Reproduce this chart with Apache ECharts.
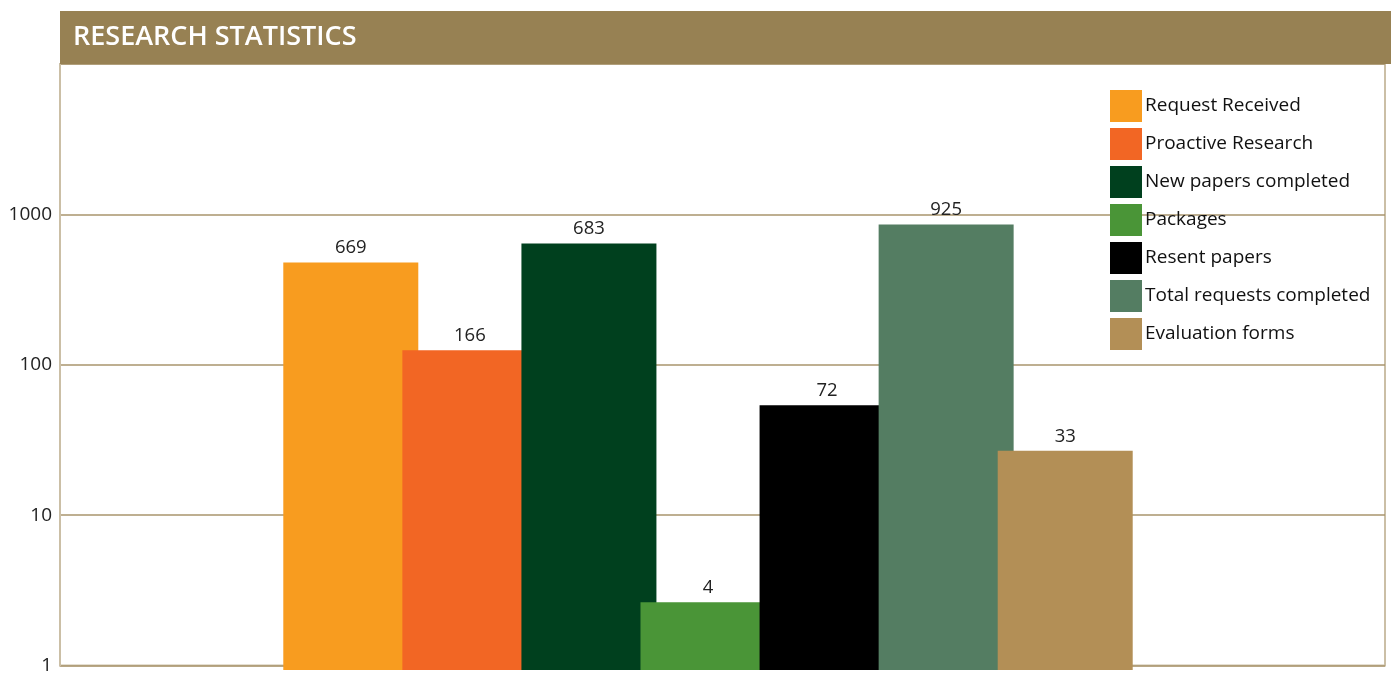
<!DOCTYPE html>
<html>
<head>
<meta charset="utf-8">
<script src="https://cdn.jsdelivr.net/npm/echarts@6/dist/echarts.min.js"></script>
<style>
html,body{margin:0;padding:0;background:#fff;}
#chart{width:1391px;height:675px;}
</style>
</head>
<body>
<div id="chart"></div>
<script>
// Data
var seriesNames = ['Request Received','Proactive Research','New papers completed','Packages','Resent papers','Total requests completed','Evaluation forms'];
// bar heights as drawn on the log axis
var barValues = [490, 129, 654, 2.8, 56, 873, 28];
// value labels as printed above the bars
var labelValues = [669, 166, 683, 4, 72, 925, 33];
var seriesColors = ['#f89c1f','#f26624','#00401e','#4a9537','#000000','#547d62','#b38f56'];
var yTicks = [1, 10, 100, 1000];
var chartTitle = 'RESEARCH STATISTICS';

var FONT = '"Open Sans", "Noto Sans", sans-serif';
var chart = echarts.init(document.getElementById('chart'));

var series = seriesNames.map(function (name, i) {
  return {
    name: name,
    type: 'bar',
    xAxisIndex: 1,
    yAxisIndex: 1,
    data: [barValues[i]],
    barWidth: 135,
    barGap: '-11.8%',
    itemStyle: { color: seriesColors[i] },
    label: {
      show: true,
      position: 'top',
      distance: 5,
      fontFamily: FONT,
      fontSize: 18.5,
      color: '#222',
      formatter: function () { return String(labelValues[i]); }
    },
    emphasis: { disabled: true },
    animation: false
  };
});

var option = {
  animation: false,
  backgroundColor: '#ffffff',
  textStyle: { fontFamily: FONT },
  graphic: [
    { type: 'rect', z: 100, shape: { x: 60, y: 11, width: 1331, height: 53 }, style: { fill: '#978153' } },
    { type: 'text', z: 101, x: 73, y: 37, style: { text: chartTitle, fill: '#ffffff', font: '600 27px "Open Sans", sans-serif', verticalAlign: 'middle' } }
  ],
  legend: {
    orient: 'vertical',
    left: 1110,
    top: 90,
    padding: 0,
    itemWidth: 32,
    itemHeight: 32,
    itemGap: 6,
    icon: 'rect',
    data: seriesNames,
    textStyle: { fontFamily: FONT, fontSize: 19, color: '#111', padding: [0, 0, 0, -2] },
    selectedMode: false
  },
  grid: [
    { left: 60, right: 6, top: 64, bottom: 5, show: true, borderColor: '#cbbfa6', borderWidth: 2, backgroundColor: 'transparent' },
    { left: 60, right: 35, top: 64, bottom: 5 }
  ],
  xAxis: [
    { type: 'category', gridIndex: 0, data: [''], show: false },
    { type: 'category', gridIndex: 1, data: [''], show: false }
  ],
  yAxis: [
    {
      type: 'log', gridIndex: 0, logBase: 10, min: 1, max: 10000,
      axisLine: { show: true, lineStyle: { color: '#cbbfa6', width: 2 } },
      axisTick: { show: false },
      splitLine: { show: true, lineStyle: { color: '#a8946c', width: 1.5 } },
      axisLabel: {
        fontFamily: FONT, fontSize: 19, color: '#222', margin: 8,
        formatter: function (v) { return yTicks.indexOf(Math.round(v)) >= 0 ? String(Math.round(v)) : ''; }
      }
    },
    {
      type: 'log', gridIndex: 1, logBase: 10, min: 1, max: 10000, show: false,
      splitLine: { show: false }
    }
  ],
  series: series
};
chart.setOption(option);
</script>
</body>
</html>
